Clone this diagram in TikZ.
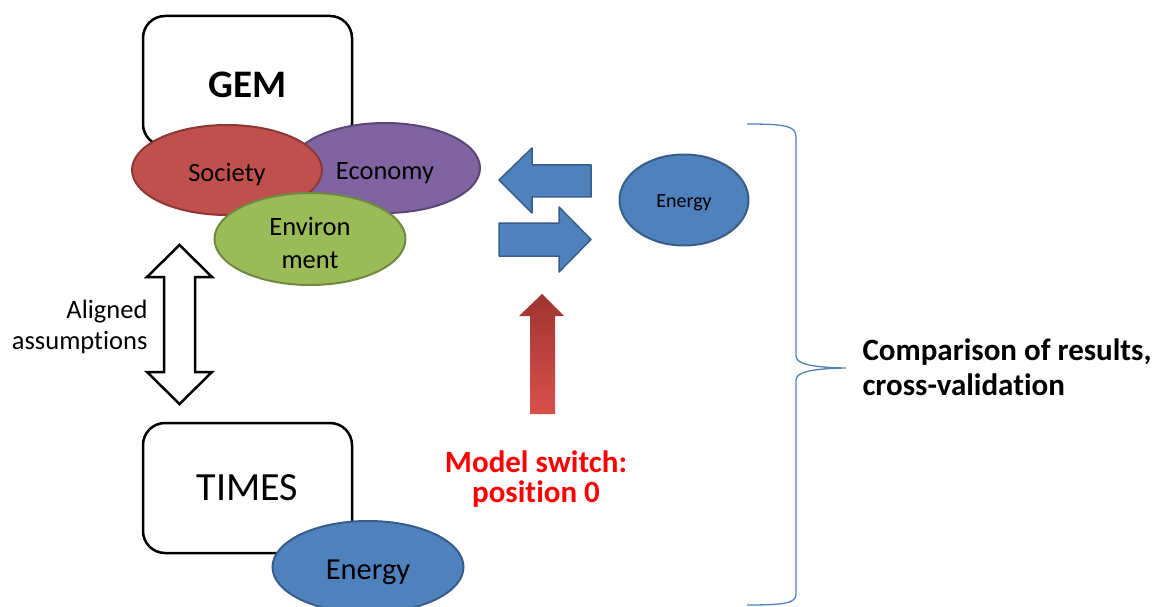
\documentclass[tikz,border=0pt]{standalone}
\usepackage{fontspec}
\setmainfont{Carlito}[Ligatures={NoCommon,NoContextual}]
\usetikzlibrary{shapes.geometric}
\definecolor{socfill}{HTML}{C0504D}
\definecolor{socline}{HTML}{8C3836}
\definecolor{ecofill}{HTML}{8064A2}
\definecolor{ecoline}{HTML}{5C4776}
\definecolor{envfill}{HTML}{9BBB59}
\definecolor{envline}{HTML}{71893F}
\definecolor{nrgfill}{HTML}{4F81BD}
\definecolor{nrgline}{HTML}{385D8A}
\definecolor{switchtop}{HTML}{9E3431}
\definecolor{switchbot}{HTML}{D9504C}
\begin{document}
\begin{tikzpicture}[x=1pt,y=-1pt,
    modelbox/.style={draw,line width=2.5pt,rounded corners=22pt,fill=white,
        minimum width=209pt,minimum height=130pt},
    blob/.style={ellipse,draw,line width=2pt,inner sep=0pt,
        minimum width=190pt,minimum height=90pt},
    blobtext/.style={align=center,font=\fontsize{26.5}{33}\selectfont,yshift=-5pt},
    flow/.style={fill=nrgfill,draw=nrgline,line width=1.5pt,line join=round}]
\useasboundingbox (0,0) rectangle (1160,607);
% Models
    % GEM
    \node[modelbox,label={[font=\fontsize{39}{44}\selectfont\bfseries,yshift=-4pt]center:GEM}] (gem) at (247.5,81) {};
    \node[blob,fill=ecofill,draw=ecoline,label={[blobtext]center:Economy}] (economy) at (385,168) {};
    \node[blob,fill=socfill,draw=socline,label={[blobtext]center:Society}] (society) at (227,170) {};
    \node[blob,fill=envfill,draw=envline,minimum width=191pt,minimum height=92pt,
        label={[blobtext,yshift=1pt]center:{Environ\\ment}}] (environment) at (310,239) {};
    % TIMES
    \node[modelbox,font=\fontsize{40}{44}\selectfont] (times) at (247.5,488) {TIMES};
    \node[blob,fill=nrgfill,draw=nrgline,minimum width=191pt,minimum height=92pt,
        label={[blobtext,font=\fontsize{30.5}{34}\selectfont]center:Energy}] (energy) at (368,567) {};
% Assumptions
    \draw[line width=2.5pt,fill=white,line join=miter]
        (179.5,245) -- (212,277) -- (195,277) -- (195,372) -- (212,372) -- (179.5,404)
        -- (147,372) -- (164,372) -- (164,277) -- (147,277) -- cycle;
    \node[align=right,anchor=east,font=\fontsize{26.5}{31}\selectfont] (aligned) at (151,327) {Aligned\\assumptions};
% Energy exchange
    \node[blob,fill=nrgfill,draw=nrgline,minimum width=129pt,minimum height=91pt,
        label={[blobtext,yshift=2pt,font=\fontsize{20}{24}\selectfont]center:Energy}] (energyswitch) at (684,200) {};
    \draw[flow] (499,180) -- (532,148) -- (532,165) -- (591,165) -- (591,197) -- (532,197) -- (532,213) -- cycle;
    \draw[flow] (499,223) -- (559,223) -- (559,207) -- (591,239.5) -- (559,272) -- (559,256) -- (499,256) -- cycle;
% Switch
    \shade[top color=switchtop,bottom color=switchbot]
        (542,294) -- (564,316) -- (555,316) -- (555,414) -- (530,414) -- (530,316) -- (519,316) -- cycle;
    \node[align=center,text=red,font=\fontsize{31}{30}\selectfont\bfseries] (switch) at (536,479) {Model switch:\\position 0};
% Comparison
    \draw[nrgfill,line width=1.3pt] (747,124) .. controls (786,124) and (796,126) .. (796,137)
        -- (796,356) .. controls (796,364) and (812,367.5) .. (846,368)
        .. controls (812,368.5) and (796,372) .. (796,380)
        -- (796,594) .. controls (796,603) and (786,605) .. (747,605);
    \node[align=left,anchor=west,font=\fontsize{31}{35}\selectfont\bfseries] (comparison) at (859,367) {Comparison of results,\\cross-validation};
\end{tikzpicture}
\end{document}
